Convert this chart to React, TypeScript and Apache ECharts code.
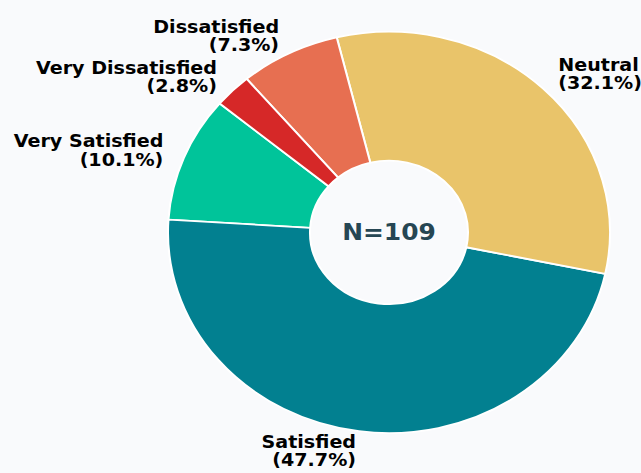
import React, { useEffect, useRef } from "react";
import * as echarts from "echarts";

const categories = ["Very Satisfied", "Satisfied", "Neutral", "Dissatisfied", "Very Dissatisfied"];
const counts = [11, 52, 35, 8, 3];
const colors = ["#00c49a", "#028090", "#e9c46a", "#e76f51", "#d62828"];

const W = 641;
const H = 473;
const SY = 0.9079;
const HU = H / SY;

export default function App() {
  const ref = useRef<HTMLDivElement>(null);
  useEffect(() => {
    if (!ref.current) return;
    const chart = echarts.init(ref.current, undefined, { renderer: "svg" });
    const total = counts.reduce((a, b) => a + b, 0);
    chart.setOption({
      animation: false,
      backgroundColor: "#f9fafc",
      graphic: [
        {
          type: "text",
          x: 389,
          y: 256,
          style: {
            text: `N=${total}`,
            fontFamily: "DejaVu Sans",
            fontWeight: "bold",
            fontSize: 24.9,
            fill: "#264653",
            textAlign: "center",
            textVerticalAlign: "middle",
          },
        },
      ],
      series: [
        {
          type: "pie",
          center: [389, 256],
          radius: [79, 221],
          startAngle: 140,
          clockwise: false,
          avoidLabelOverlap: false,
          data: categories.map((c, i) => ({
            name: c,
            value: counts[i],
            itemStyle: { color: colors[i] },
          })),
          itemStyle: { borderColor: "#ffffff", borderWidth: 2 },
          label: {
            show: true,
            position: "outside",
            distanceToLabelLine: 0,
            formatter: (p: any) => `${p.name}\n(${((p.value / total) * 100).toFixed(1)}%)`,
            fontFamily: "DejaVu Sans",
            fontWeight: "bold",
            fontSize: 19.1,
            lineHeight: 20,
            color: "#000000",
          },
          labelLine: { show: false, length: 22.1, length2: 0 },
          emphasis: { disabled: true },
        },
      ],
    });
    return () => chart.dispose();
  }, []);
  return (
    <div
      style={{
        position: "fixed",
        left: 0,
        top: 0,
        width: W,
        height: HU,
        transform: `scaleY(${SY})`,
        transformOrigin: "0 0",
        background: "#f9fafc",
      }}
    >
      <div ref={ref} style={{ width: W, height: HU }} />
    </div>
  );
}
